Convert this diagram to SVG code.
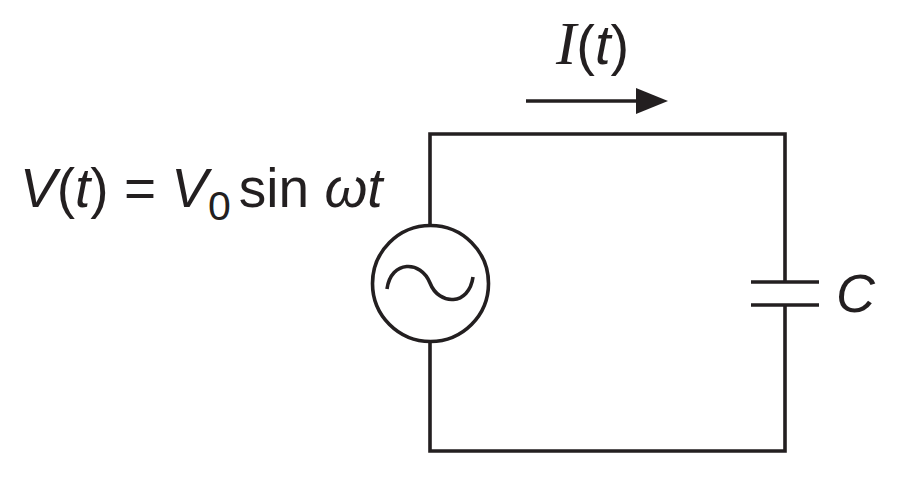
<svg xmlns="http://www.w3.org/2000/svg" width="917" height="486" viewBox="0 0 917 486">
<style>
.w{fill:none;stroke:#231f20;stroke-width:3.6}
.t{font-family:"Liberation Sans",Arial,sans-serif;fill:#231f20}
.i{font-style:italic}
</style>
<rect width="917" height="486" fill="#fff"/>
<g id="connectors">
<path class="w" d="M430,225 V134 H785 V282 M785,305 V451 H430 V342"/>
<path class="w" d="M526,101 H640"/>
<polygon points="636,88 668,101 636,114" fill="#231f20"/>
</g>
<g id="source">
<circle class="w" cx="430.5" cy="283.5" r="58"/>
<path class="w" d="M387,289 C391,260 421,260 430,283 C439,306 469,306 473,277"/>
</g>
<g id="capacitor">
<path class="w" d="M751,282 H819 M751,305 H819"/>
<text class="t i" x="836" y="312" font-size="54">C</text>
</g>
<g id="current">
<text class="t" x="556" y="64" font-size="56"><tspan font-family="Liberation Serif" font-style="italic" font-size="61">I</tspan><tspan>(</tspan><tspan class="i">t</tspan><tspan>)</tspan></text>
</g>
<g id="voltage">
<text class="t" x="20" y="207" font-size="55"><tspan class="i">V</tspan>(<tspan class="i">t</tspan>) = <tspan class="i">V</tspan><tspan font-size="41" dy="13">0</tspan><tspan dy="-13" dx="8">sin</tspan> <tspan class="i">ωt</tspan></text>
</g>
</svg>
